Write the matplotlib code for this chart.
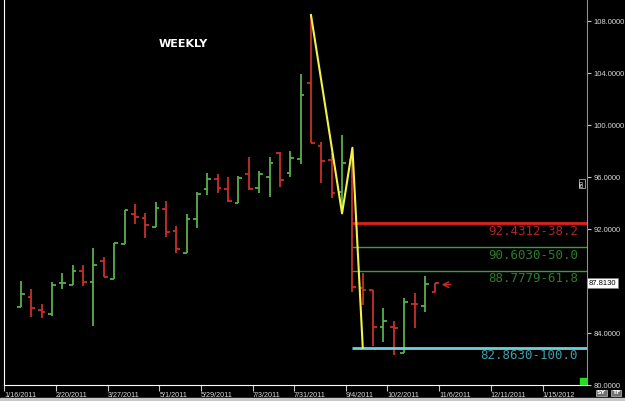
import matplotlib
matplotlib.use("Agg")
import matplotlib.pyplot as plt
from matplotlib.patches import Rectangle

# weekly OHLC bars, one per week
opens = [86.00, 86.77, 85.77, 85.46, 87.85, 87.69, 88.77, 87.92, 89.54, 88.15,
         90.85, 93.15, 92.85, 92.15, 93.54, 91.85, 90.15, 92.77, 95.08, 95.85,
         95.08, 94.00, 96.23, 95.15, 96.00, 97.85, 96.31, 97.38, 103.23, 98.38,
         97.31, 94.85, 97.31, 87.46, 87.31, 84.46, 84.46, 82.46, 86.23, 86.08,
         87.15]
highs = [88.00, 87.38, 86.23, 87.92, 88.62, 89.23, 89.23, 90.54, 89.85, 90.92,
         93.46, 93.92, 93.23, 94.08, 94.15, 92.23, 93.15, 94.85, 96.31, 96.23,
         96.00, 96.08, 97.54, 96.46, 97.54, 97.92, 98.00, 103.92, 108.46, 98.69,
         97.85, 99.23, 98.08, 88.62, 87.31, 85.92, 84.92, 86.69, 87.08, 88.38,
         87.85]
lows = [86.00, 85.23, 85.15, 85.31, 87.38, 87.69, 87.62, 84.54, 88.31, 88.15,
        90.85, 92.38, 91.31, 92.15, 91.38, 90.15, 90.15, 92.08, 94.62, 94.77,
        94.08, 94.00, 95.00, 94.77, 94.46, 95.23, 96.00, 97.00, 98.62, 95.54,
        94.38, 93.69, 87.15, 86.15, 83.00, 83.31, 82.31, 82.46, 84.38, 85.62,
        87.15]
closes = [87.00, 85.92, 85.62, 87.69, 87.85, 88.77, 87.92, 89.23, 88.31, 90.92,
          93.46, 92.92, 92.31, 93.62, 91.77, 90.46, 92.77, 94.69, 95.85, 95.15,
          94.15, 95.92, 95.08, 96.23, 97.08, 95.77, 97.46, 102.31, 98.62, 97.23,
          94.77, 97.08, 87.54, 87.31, 84.46, 84.92, 84.38, 86.38, 86.23, 87.77,
          87.81]
up_bar = [1, 0, 0, 1, 1, 1, 0, 1, 0, 1,
          1, 0, 0, 1, 0, 0, 1, 1, 1, 0,
          0, 1, 0, 1, 1, 0, 1, 1, 0, 0,
          0, 1, 0, 0, 0, 1, 0, 1, 0, 1,
          0]

# zigzag swing points (bar index, price)
zig_x = [28, 31, 32, 33]
zig_y = [108.46, 93.20, 98.25, 82.863]

fib_levels = [92.4312, 90.6030, 88.7779, 82.8630]
fib_labels = ["92.4312-38.2", "90.6030-50.0", "88.7779-61.8", "82.8630-100.0"]
fib_line_colors = ["#e02020", "#3f9a3f", "#3f9a3f", "#70d0d8"]
fib_text_colors = ["#a82828", "#2f7a2f", "#2f7a2f", "#3ea0a8"]
fib_widths = [2.0, 1.0, 1.0, 2.0]

y_ticks = [80, 84, 88, 92, 96, 100, 104, 108]
tick_labels = ["1/16/2011", "2/20/2011", "3/27/2011", "5/1/2011", "5/29/2011",
               "7/3/2011", "7/31/2011", "9/4/2011", "10/2/2011", "11/6/2011",
               "12/11/2011", "1/15/2012"]
tick_weeks = [0, 5, 10, 15, 19, 24, 28, 33, 37, 42, 47, 52]
first_bar_week = 1.64
last_price = 87.8130

GREEN = "#58b04c"
RED = "#c8302a"

fig = plt.figure(figsize=(6.25, 4.01), dpi=100, facecolor="black")
ax = fig.add_axes([4 / 625, 16 / 401, 583 / 625, 385 / 401])
ax.set_facecolor("black")

half = 0.36
for i in range(len(opens)):
    c = GREEN if up_bar[i] else RED
    ax.vlines(i, lows[i], highs[i], color=c, lw=1.3)
    ax.hlines(opens[i], i - half, i, color=c, lw=1.3)
    ax.hlines(closes[i], i, i + half, color=c, lw=1.3)

ax.plot(zig_x, zig_y, color="#f2f24a", lw=1.5, zorder=5)

x_min, x_max = -1.54, 54.65
for lvl, lab, lc, tc, w in zip(fib_levels, fib_labels, fib_line_colors,
                               fib_text_colors, fib_widths):
    ax.hlines(lvl, zig_x[2], x_max, color=lc, lw=w, zorder=4)
    ax.text(53.8, lvl - 0.12, lab, color=tc, fontsize=9, family="DejaVu Sans Mono",
            ha="right", va="top")

ax.annotate("", xy=(40.35, 87.72), xytext=(41.75, 87.72),
            arrowprops=dict(arrowstyle="->", color=RED, lw=1.0))

ax.text(15.7, 106.2, "WEEKLY", color="white", fontsize=8, fontweight="bold",
        ha="center", va="center")

ax.set_xlim(x_min, x_max)
ax.set_ylim(80, 80 + 385 / 13)

ax.yaxis.tick_right()
ax.set_yticks(y_ticks)
ax.set_yticklabels([f"{v:.4f}" if v != 88 else "" for v in y_ticks])
ax.tick_params(axis="y", colors="#c8c8c8", length=3, width=0.8, pad=2,
               labelsize=5.5)
ax.set_xticks([w - first_bar_week for w in tick_weeks])
ax.set_xticklabels(tick_labels, ha="left")
ax.tick_params(axis="x", colors="#c8c8c8", length=4, width=0.8, pad=1,
               labelsize=5.2)
for lbl in ax.get_xticklabels() + ax.get_yticklabels():
    lbl.set_family("Liberation Sans")
    lbl.set_color("#d8d8d8")

ax.spines["top"].set_visible(False)
ax.spines["left"].set_color("white")
ax.spines["bottom"].set_color("white")
ax.spines["right"].set_color("#909090")

ax.text(1.003, (last_price - 80) / (385 / 13), f"{last_price:.4f}",
        transform=ax.transAxes, fontsize=5.5, family="Liberation Sans",
        color="black", va="center", ha="left",
        bbox=dict(boxstyle="square,pad=0.2", fc="white", ec="#808080", lw=0.5))
ax.text(0.995, (95.5 - 80) / (385 / 13), "B0", transform=ax.transAxes,
        fontsize=4, color="white", rotation=90, ha="right", va="center",
        bbox=dict(boxstyle="square,pad=0.1", fc="black", ec="white", lw=0.4))

# little status widgets in the bottom right corner
fig.patches.append(Rectangle((0, 0), 1, 3 / 401, transform=fig.transFigure,
                             color="#c8c8c8"))
fig.patches.append(Rectangle((580 / 625, 17 / 401), 6 / 625, 6 / 401,
                             transform=fig.transFigure, color="#22dd22"))
for x0, t in [(595, "SY"), (610, "TF")]:
    fig.text((x0 + 6) / 625, 8 / 401, t, fontsize=4.5, color="white",
             ha="center", va="center", fontweight="bold",
             bbox=dict(boxstyle="square,pad=0.15", fc="#707070", ec="#c0c0c0",
                       lw=0.5))

fig.savefig("out.png", dpi=100, facecolor="black")
plt.close(fig)
